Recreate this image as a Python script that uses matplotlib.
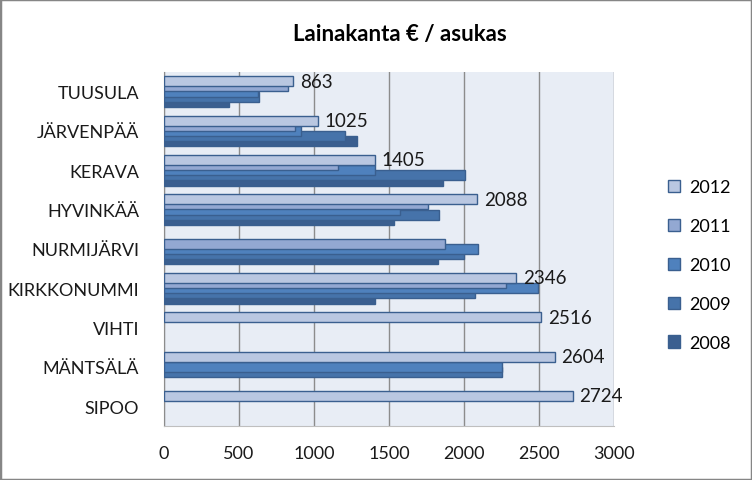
import matplotlib.pyplot as plt
import numpy as np
from matplotlib.patches import Rectangle

plt.rcParams['font.family'] = ['Lato', 'DejaVu Sans']

# Municipalities, top to bottom
kunnat = ['TUUSULA', 'JÄRVENPÄÄ', 'KERAVA', 'HYVINKÄÄ', 'NURMIJÄRVI',
          'KIRKKONUMMI', 'VIHTI', 'MÄNTSÄLÄ', 'SIPOO']

# Lainakanta € / asukas per year (nan = no value)
nan = np.nan
v2012 = [863, 1025, 1405, 2088, nan, 2346, 2516, 2604, 2724]
v2011 = [827, 873, 1158, 1758, 1871, 2278, nan, nan, nan]
v2010 = [627, 911, 1405, 1571, 2093, 2493, nan, 2251, nan]
v2009 = [633, 1207, 2009, 1831, 2000, 2073, nan, 2251, nan]
v2008 = [436, 1289, 1862, 1533, 1827, 1407, nan, nan, nan]

years = ['2012', '2011', '2010', '2009', '2008']
series = [v2012, v2011, v2010, v2009, v2008]
colors = ['#B9C7E1', '#93A8D2', '#4F81BD', '#4673AA', '#3B5F90']
edge = '#3A5F8F'

fig = plt.figure(figsize=(7.52, 4.81), dpi=100)
ax = fig.add_axes([164 / 752, 54 / 481, 450 / 752, 354 / 481])
ax.set_facecolor('#E8EDF5')

y = np.arange(len(kunnat))
offsets = [-0.265, -0.135, 0.0, 0.13, 0.26]
bar_h = 0.255

# draw bottom series first so upper bars overlap them
handles = {}
for i in reversed(range(len(years))):
    vals = np.array(series[i], dtype=float)
    mask = ~np.isnan(vals)
    b = ax.barh(y[mask] + offsets[i], vals[mask], height=bar_h, color=colors[i],
                edgecolor=edge, linewidth=1.0, zorder=2 + (5 - i), label=years[i])
    handles[years[i]] = b

# data labels for 2012
for yi, v in zip(y, v2012):
    if not np.isnan(v):
        ax.text(v + 45, yi + offsets[0], str(int(v)), va='center', ha='left',
                fontsize=13.5, color='#1a1a1a', zorder=10)

ax.set_xlim(0, 3000)
ax.set_ylim(len(kunnat) - 0.5, -0.5)
ax.set_xticks(range(0, 3001, 500))
ax.set_yticks(y)
ax.set_yticklabels(kunnat)
ax.tick_params(axis='both', length=0, labelsize=13, colors='#1a1a1a')
ax.tick_params(axis='x', pad=14)
ax.tick_params(axis='y', pad=18)
ax.xaxis.grid(True, color='#8C8C8C', linewidth=1.0, zorder=0)
ax.set_axisbelow(True)
for s in ['top', 'right']:
    ax.spines[s].set_visible(False)
ax.spines['left'].set_color('#8C8C8C')
ax.spines['bottom'].set_color('#BFBFBF')

fig.text(400 / 752, 1 - 35 / 481, 'Lainakanta € / asukas', ha='center', va='center',
         fontsize=16, fontweight='bold', color='#000000')

leg = fig.legend([handles[yr] for yr in years], years, loc='center left',
                 bbox_to_anchor=(652 / 752, 1 - 266 / 481), frameon=False,
                 fontsize=13, handlelength=0.65, handleheight=0.65,
                 handletextpad=0.5, labelspacing=1.27)

fig.patches.append(Rectangle((0, 0), 1, 1, transform=fig.transFigure, fill=False,
                             edgecolor='#868686', linewidth=2.5))

fig.savefig('out.png', dpi=100)
